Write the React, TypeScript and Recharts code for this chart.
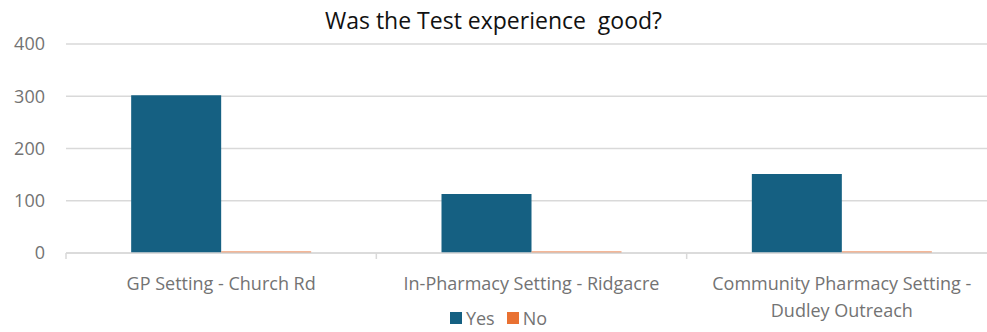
import { BarChart, Bar, XAxis, YAxis, CartesianGrid, Legend } from 'recharts';

const CATEGORIES = ['GP Setting - Church Rd', 'In-Pharmacy Setting - Ridgacre', 'Community Pharmacy Setting - Dudley Outreach'];
const YES = [302, 113, 151];
const NO = [3, 3, 3];
const Y_TICKS = [0, 100, 200, 300, 400];

const YES_COLOR = '#156082';
const NO_COLOR = '#E97132';
const GRID = '#D9D9D9';
const TEXT = '#737373';
const FONT = '"Open Sans", sans-serif';

const data = CATEGORIES.map((name, i) => ({ name, yes: YES[i], no: NO[i] }));

// split long labels like Excel does: keep lines under ~30 chars
function wrap(label: string, max = 30) {
  const words = label.split(' ');
  const lines: string[] = [];
  let cur = '';
  for (const w of words) {
    const next = cur ? cur + ' ' + w : w;
    if (next.length > max && cur) {
      lines.push(cur);
      cur = w;
    } else cur = next;
  }
  if (cur) lines.push(cur);
  return lines;
}

function CategoryTick(props: any) {
  const { x, y, payload, width, visibleTicksCount } = props;
  const band = width / visibleTicksCount;
  const lines = wrap(payload.value);
  return (
    <g>
      <line x1={x - band / 2} x2={x - band / 2} y1={y} y2={y + 6} stroke={GRID} strokeWidth={1.5} />
      <text x={x} y={y} textAnchor="middle" fill={TEXT} fontSize={18} fontFamily={FONT}>
        {lines.map((l, i) => (
          <tspan key={i} x={x} dy={i === 0 ? 37 : 27}>{l}</tspan>
        ))}
      </text>
    </g>
  );
}

function LegendContent() {
  const items = [
    { label: 'Yes', color: YES_COLOR },
    { label: 'No', color: NO_COLOR },
  ];
  return (
    <div style={{ display: 'flex', justifyContent: 'center', gap: 12, fontFamily: FONT, fontSize: 18, lineHeight: '20px', color: TEXT }}>
      {items.map((it) => (
        <span key={it.label} style={{ display: 'flex', alignItems: 'center', gap: 4 }}>
          <span style={{ width: 12, height: 12, background: it.color, display: 'inline-block' }} />
          {it.label}
        </span>
      ))}
    </div>
  );
}

export default function App() {
  return (
    <div style={{ position: 'absolute', left: 0, top: 0, width: 987, height: 332, overflow: 'hidden', background: '#fff' }}>
      <div style={{ position: 'absolute', top: 4, left: 0, width: 987, textAlign: 'center', fontFamily: FONT, fontSize: 23, lineHeight: '32px', color: '#111' }}>
        Was the Test experience&nbsp; good?
      </div>
      <BarChart
        width={997}
        height={332}
        data={data}
        margin={{ top: 44, right: 0, left: 0, bottom: 0 }}
        barCategoryGap="21%"
        barGap={0}
      >
        <CartesianGrid vertical={false} stroke={GRID} strokeWidth={1.5} />
        <XAxis
          dataKey="name"
          height={55}
          axisLine={{ stroke: GRID, strokeWidth: 1.5 }}
          tickLine={false}
          tickSize={0}
          tickMargin={0}
          interval={0}
          tick={<CategoryTick />}
        />
        <YAxis
          width={66}
          domain={[0, 400]}
          ticks={Y_TICKS}
          axisLine={false}
          tickLine={false}
          tickSize={0}
          tickMargin={21}
          tick={{ fill: TEXT, fontSize: 18, fontFamily: FONT }}
        />
        <Legend verticalAlign="bottom" height={24} content={<LegendContent />} />
        <Bar dataKey="yes" name="Yes" fill={YES_COLOR} isAnimationActive={false} />
        <Bar dataKey="no" name="No" fill={NO_COLOR} isAnimationActive={false} />
      </BarChart>
    </div>
  );
}
